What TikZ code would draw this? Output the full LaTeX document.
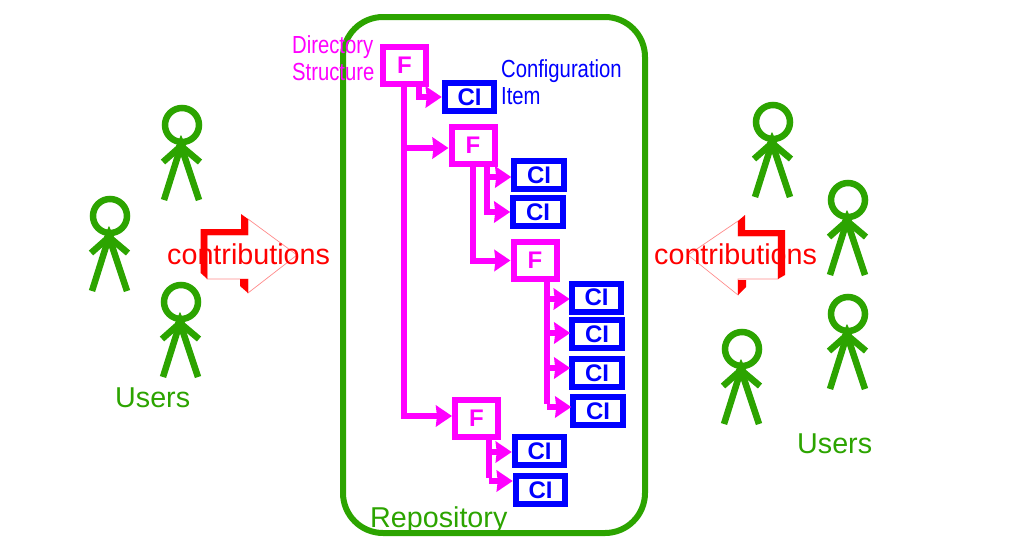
\documentclass[tikz,border=0pt]{standalone}
\usepackage{fontspec}
\setmainfont{Liberation Sans}
\usetikzlibrary{arrows.meta}
\definecolor{grn}{HTML}{2CA400}
\definecolor{mag}{HTML}{FF00FF}
\definecolor{blu}{HTML}{0000FF}
\definecolor{rd}{HTML}{FF0000}
\definecolor{ltrd}{HTML}{FF8A8A}
\newcommand{\sx}[1]{\scalebox{0.82}[1]{#1}}
\tikzset{
  x=1pt,y=-1pt,
  folder/.style={draw=mag,line width=6pt,minimum width=43pt,minimum height=37pt,inner sep=0pt,text=mag,font=\bfseries\fontsize{24}{26}\selectfont},
  citem/.style={draw=blu,line width=6pt,minimum width=49.5pt,minimum height=28pt,inner sep=0pt,text=blu,font=\bfseries\fontsize{24}{26}\selectfont},
  link/.style={draw=mag,line width=6pt,-{Stealth[length=16pt,width=21pt,inset=1pt]}},
  trunk/.style={draw=mag,line width=6pt},
  biglabel/.style={inner sep=0pt,anchor=base west,font=\fontsize{28.7}{30}\selectfont},
  smalllabel/.style={inner sep=0pt,anchor=west,align=left,font=\fontsize{24.7}{26.5}\selectfont},
  stickman/.pic={
    \draw[grn,line width=6.5pt] (0,0) circle[radius=17];
    \fill[grn] (-1,10) -- (4,21) -- (-6,21) -- cycle;
    \draw[grn,line width=6.5pt] (-19,37) -- (-1,21) -- (18,37);
    \draw[grn,line width=6.5pt] (-18,75) -- (-1,21) -- (17,75);
  }
}
\begin{document}
\begin{tikzpicture}
\useasboundingbox (0,0) rectangle (1015,555);
% repository
\node[draw=grn,line width=6pt,rounded corners=40pt,minimum width=302pt,minimum height=516pt,inner sep=0pt] (repo) at (494,275) {};
% users
\pic at (182,125) {stickman};
\pic at (110,216) {stickman};
\pic at (181,302) {stickman};
\pic at (773,122) {stickman};
\pic at (848,200) {stickman};
\pic at (848,314) {stickman};
\pic at (742,349) {stickman};
% block arrows
\draw[ltrd,line width=.7pt] (248,219) -- (297,255) -- (248,293) -- (248,279) -- (207,279) -- (207,235) -- (248,235) -- cycle;
\fill[rd] (200.7,229) -- (241,229) -- (241,214) -- (248,219) -- (248,235) -- (207.3,235) -- (207.3,279) -- (200.7,273) -- cycle;
\fill[rd] (240,279) -- (248,279) -- (248,293) -- (240,286) -- cycle;
\draw[ltrd,line width=.7pt] (738,221) -- (688,255) -- (738,295) -- (738,279) -- (778,279) -- (778,236) -- (738,236) -- cycle;
\fill[rd] (738,221) -- (745,215) -- (745,230) -- (785,230) -- (785,275) -- (778,279) -- (778,236) -- (738,236) -- cycle;
\fill[rd] (738,280) -- (746,280) -- (746,287) -- (738,295) -- cycle;
% tree nodes
\node[folder] (F1) at (404.5,65.5) {F};
\node[citem] (C1) at (469.5,97) {CI};
\node[folder] (F2) at (473,145.5) {F};
\node[citem] (C2) at (539,175) {CI};
\node[citem] (C3) at (538,212) {CI};
\node[folder] (F3) at (535,260.5) {F};
\node[citem] (C4) at (596.5,297.5) {CI};
\node[citem] (C5) at (597,334) {CI};
\node[citem] (C6) at (597,373) {CI};
\node[citem] (C7) at (598,411) {CI};
\node[folder] (F4) at (476.5,418) {F};
\node[citem] (C8) at (539.5,451) {CI};
\node[citem] (C9) at (540.5,490) {CI};
% tree coordinates
\coordinate (a1) at (404,87);
\coordinate (a2) at (404,148);
\coordinate (a3) at (404,416);
\coordinate (b1) at (419,87);
\coordinate (b2) at (473,167);
\coordinate (b3) at (473,260);
\coordinate (c1) at (487,167);
\coordinate (c2) at (487,177);
\coordinate (c3) at (487,208);
\coordinate (d1) at (547,282);
\coordinate (d2) at (547,299);
\coordinate (d3) at (547,333);
\coordinate (d4) at (547,368);
\coordinate (d5) at (547,407);
\coordinate (e1) at (489,440);
\coordinate (e2) at (489,452);
\coordinate (e3) at (489,481);
% connectors
\draw[trunk] (a1) -- (a3);
\draw[link] (a2) -- (a2 -| F2.west);
\draw[link] ([xshift=-3pt]a3) -- (a3 -| F4.west);
\draw[link] (b1) |- (C1.west);
\draw[link] (b2) |- (F3.west);
\draw[link] (c2) -- (c2 -| C2.west);
\draw[link] (c1) |- (C3.west);
\draw[trunk] (d1) -- ([yshift=3pt]d5);
\draw[link] (d2) -- ([xshift=1pt]d2 -| C4.west);
\draw[link] (d3) -- ([xshift=1pt]d3 -| C5.west);
\draw[link] (d4) -- ([xshift=1pt]d4 -| C6.west);
\draw[link] (d5) -- ([xshift=1pt]d5 -| C7.west);
\draw[trunk] (e1) -- ([yshift=3pt]e3);
\draw[link] (e2) -- (e2 -| C8.west);
\draw[link] (e3) -- (e3 -| C9.west);
% labels
\node[biglabel,text=rd] (contribL) at (167,264) {contributions};
\node[biglabel,text=rd] (contribR) at (654,264) {contributions};
\node[biglabel,text=grn] (usersL) at (115,407) {Users};
\node[biglabel,text=grn] (usersR) at (797,453) {Users};
\node[biglabel,text=grn] (repolabel) at (370,527) {Repository};
\node[smalllabel,text=mag] (dirlabel) at (292,58) {\sx{Directory}\\\sx{Structure}};
\node[smalllabel,text=blu] (cilabel) at (501,82) {\sx{Configuration}\\\sx{Item}};
\end{tikzpicture}
\end{document}
